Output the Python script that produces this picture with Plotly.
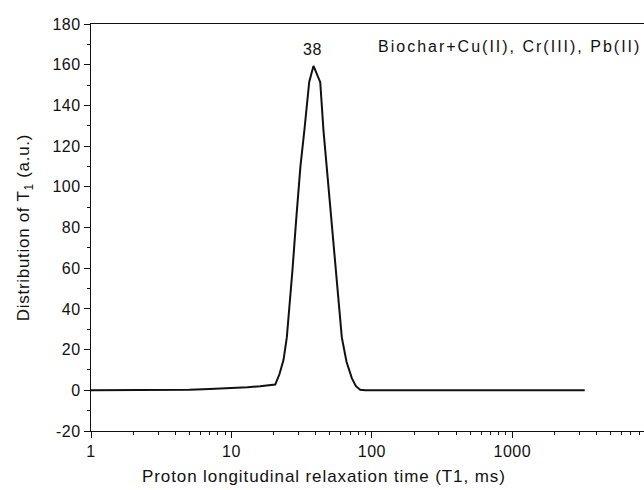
import math
import plotly.graph_objects as go

# T1 relaxation times (ms) and distribution amplitude (a.u.)
t1_ms = [1, 2, 3, 4, 5, 7, 10, 13, 16, 20.5, 22, 23.5, 24.8, 26.2, 27.2, 29, 31, 33.1,
         35.8, 38.4, 42.9, 45.2, 50, 55.7, 57.8, 61.1, 66, 72, 77, 82.6, 90, 150,
         300, 600, 1000, 2000, 3280]
amplitude = [0, 0, 0, 0.1, 0.3, 0.6, 1.0, 1.5, 2.0, 2.8, 8, 15, 26, 44, 59, 85, 110, 128,
             151.5, 159.4, 151.4, 128, 95, 59, 44, 26, 14, 6, 2, 0.3, 0, 0,
             0, 0, 0, 0, 0]

y_ticks = [-20, 0, 20, 40, 60, 80, 100, 120, 140, 160, 180]
x_ticks = [1, 10, 100, 1000, 10000]
x_minor = [m * d for d in (1, 10, 100, 1000) for m in range(2, 10)]

peak_label = "38"
sample_label = "Biochar+Cu(II), Cr(III), Pb(II)"
x_title = "Proton longitudinal relaxation time (T1, ms)"
y_title = "Distribution of T<sub>1</sub> (a.u.)"

FONT = "Liberation Sans, Arial, sans-serif"
INK = "#111111"


def spaced(s, ls=0.8):
    return f'<span style="letter-spacing:{ls}px">{s}</span>'


fig = go.Figure()
fig.add_trace(go.Scatter(
    x=t1_ms, y=amplitude, mode="lines",
    line=dict(color=INK, width=2),
    showlegend=False, hoverinfo="skip",
))

L, R, T, B = 91, 0, 24, 59
W, H = 644, 490
pw, ph = W - L - R, H - T - B

fig.add_annotation(
    x=math.log10(float(peak_label)), y=159.4, xref="x", yref="y",
    text=spaced(peak_label, 0.6), showarrow=False, yanchor="bottom", yshift=6,
    font=dict(family=FONT, size=16, color=INK),
)
fig.add_annotation(
    x=(376 - L) / pw, y=1 - (47 - T) / ph, xref="paper", yref="paper",
    text=spaced(sample_label, 2.0), showarrow=False,
    xanchor="left", yanchor="middle",
    font=dict(family=FONT, size=16, color=INK),
)
# x-axis title (the original figure is cropped, so it is centred left of the frame centre)
fig.add_annotation(
    x=(324 - L) / pw, y=-(476 - T - ph) / ph, xref="paper", yref="paper",
    text=spaced(x_title, 0.9), showarrow=False,
    xanchor="center", yanchor="middle",
    font=dict(family=FONT, size=17, color=INK),
)

fig.update_layout(
    width=W, height=H,
    margin=dict(l=L, r=R, t=T, b=B),
    paper_bgcolor="white", plot_bgcolor="white",
    font=dict(family=FONT, size=16, color=INK),
)

fig.update_xaxes(
    type="log", range=[0, 3.938], automargin=False,
    tickvals=x_ticks, ticktext=[spaced(str(v), 0.5) for v in x_ticks],
    ticks="outside", ticklen=6, tickwidth=1.3, tickcolor=INK,
    minor=dict(tickvals=x_minor, ticks="outside", ticklen=3, tickwidth=1.1,
               tickcolor=INK, showgrid=False),
    showline=True, linecolor=INK, linewidth=1.3, mirror=True,
    showgrid=False, zeroline=False,
    tickfont=dict(family=FONT, size=16, color=INK),
)
fig.update_yaxes(
    range=[-20, 180], automargin=False,
    tickvals=y_ticks, ticktext=[spaced(str(v), 0.5) for v in y_ticks],
    ticks="outside", ticklen=6, tickwidth=1.3, tickcolor=INK,
    minor=dict(dtick=10, ticks="outside", ticklen=3, tickwidth=1.1, tickcolor=INK,
               showgrid=False),
    showline=True, linecolor=INK, linewidth=1.3,
    showgrid=False, zeroline=False,
    tickfont=dict(family=FONT, size=16, color=INK),
    title=dict(text=spaced(y_title, 0.7),
               font=dict(family=FONT, size=17, color=INK), standoff=18),
)

fig.write_html("out.html", config={"displayModeBar": False},
               post_script="document.body.style.margin='0';document.body.style.overflow='hidden';")
